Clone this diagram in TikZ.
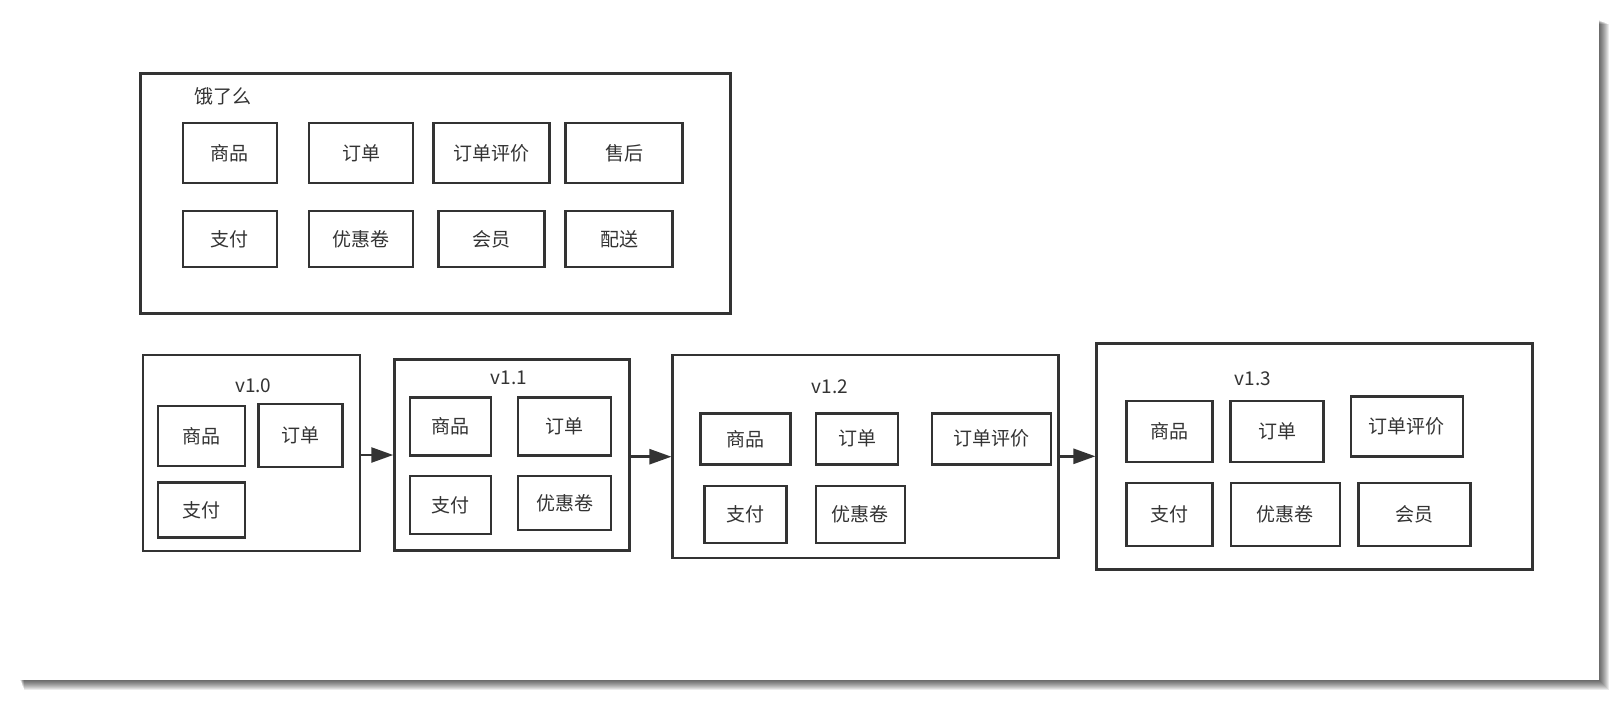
\documentclass[tikz,border=0pt]{standalone}
\usepackage{fontspec}
\setmainfont{Noto Sans CJK SC}
\usetikzlibrary{arrows.meta}

\tikzset{
  box/.style={draw=black!80, line width=2.5pt, inner sep=0pt, text=black!80},
  ver/.style={text=black!80, inner sep=0pt},
}

\begin{document}
\begin{tikzpicture}[x=1pt,y=-1pt,font=\fontsize{19}{22}\selectfont,
  >={Triangle[length=22pt,width=15pt]}]
\useasboundingbox (0,0) rectangle (1621,701);
\fill[white] (0,0) rectangle (1621,701);

% card with shadow
\foreach \d in {1,...,10}
  \fill[black,opacity=0.08] (20+\d*0.4,20+\d*0.4) rectangle (1599+\d,680+\d);
\fill[white] (20,20) rectangle (1599,680);

% all modules
\node[box, minimum width=590pt, minimum height=240pt] (elm) at (435.5,193.3) {};
\node[ver] (elmtitle) at (222.5,96.7) {饿了么};

\node[box, minimum width=94pt, minimum height=60pt] (e-sp) at (229.8,153.2) {商品};
\node[box, minimum width=104pt, minimum height=60pt] (e-dd) at (361.1,153.2) {订单};
\node[box, minimum width=116pt, minimum height=60pt] (e-pj) at (491.3,153.2) {订单评价};
\node[box, minimum width=117pt, minimum height=60pt] (e-sh) at (624,153.2) {售后};

\node[box, minimum width=94pt, minimum height=56pt] (e-zf) at (229.8,238.9) {支付};
\node[box, minimum width=104pt, minimum height=56pt] (e-yh) at (361.1,238.9) {优惠卷};
\node[box, minimum width=106pt, minimum height=56pt] (e-hy) at (491.3,238.9) {会员};
\node[box, minimum width=107pt, minimum height=56pt] (e-ps) at (619,238.9) {配送};

% v1.0
\node[box, minimum width=217pt, minimum height=196pt] (v10) at (251.4,452.9) {};
\node[ver] (v10title) at (253.3,385.7) {v1.0};
\node[box, minimum width=87pt, minimum height=60pt] (a-sp) at (201.7,435.9) {商品};
\node[box, minimum width=84pt, minimum height=63pt] (a-dd) at (300.3,435.7) {订单};
\node[box, minimum width=87pt, minimum height=55pt] (a-zf) at (201.7,509.8) {支付};

% v1.1
\node[box, minimum width=235pt, minimum height=191pt] (v11) at (512,455) {};
\node[ver] (v11title) at (509,378.3) {v1.1};
\node[box, minimum width=81pt, minimum height=58pt] (b-sp) at (450.5,426.3) {商品};
\node[box, minimum width=93pt, minimum height=58pt] (b-dd) at (564.7,426.3) {订单};
\node[box, minimum width=81pt, minimum height=58pt] (b-zf) at (450.5,505.2) {支付};
\node[box, minimum width=93pt, minimum height=54pt] (b-yh) at (564.7,503) {优惠卷};

% v1.2
\node[box, minimum width=386pt, minimum height=203pt] (v12) at (865.7,456.7) {};
\node[ver] (v12title) at (829.8,386.7) {v1.2};
\node[box, minimum width=90pt, minimum height=51pt] (c-sp) at (745.3,438.8) {商品};
\node[box, minimum width=82pt, minimum height=51pt] (c-dd) at (857,438.8) {订单};
\node[box, minimum width=119pt, minimum height=51pt] (c-pj) at (991.4,438.8) {订单评价};
\node[box, minimum width=82pt, minimum height=57pt] (c-zf) at (745.6,514.7) {支付};
\node[box, minimum width=89pt, minimum height=57pt] (c-yh) at (860.3,514.7) {优惠卷};

% v1.3
\node[box, minimum width=436pt, minimum height=226pt] (v13) at (1314.7,456.3) {};
\node[ver] (v13title) at (1252.7,378.3) {v1.3};
\node[box, minimum width=86pt, minimum height=61pt] (d-sp) at (1169.4,431.7) {商品};
\node[box, minimum width=93pt, minimum height=61pt] (d-dd) at (1277,431.7) {订单};
\node[box, minimum width=112pt, minimum height=60pt] (d-pj) at (1406.9,426.7) {订单评价};
\node[box, minimum width=86pt, minimum height=63pt] (d-zf) at (1169.4,514.7) {支付};
\node[box, minimum width=109pt, minimum height=63pt] (d-yh) at (1285.4,514.7) {优惠卷};
\node[box, minimum width=112pt, minimum height=63pt] (d-hy) at (1414.7,514.7) {会员};

% versions
\draw[->,line width=2.5pt,draw=black!80,fill=black!80] (v10.east |- v11.west) -- (v11.west);
\draw[->,line width=2.5pt,draw=black!80,fill=black!80] (v11.east |- v12.west) -- (v12.west);
\draw[->,line width=2.5pt,draw=black!80,fill=black!80] (v12.east |- v13.west) -- (v13.west);
\end{tikzpicture}
\end{document}
